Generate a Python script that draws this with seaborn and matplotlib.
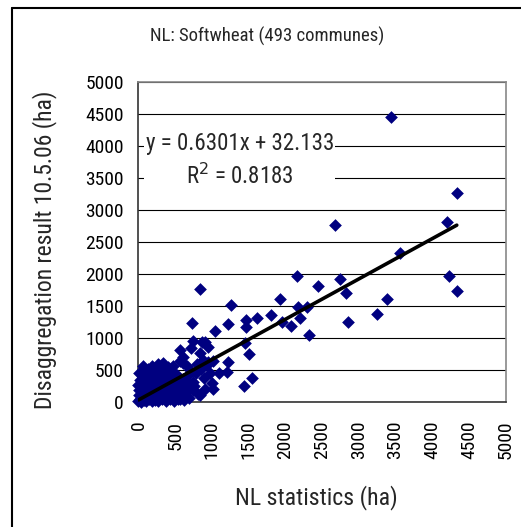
import matplotlib
matplotlib.use("Agg")
import matplotlib.pyplot as plt
import seaborn as sns
import pandas as pd
from matplotlib.lines import Line2D

# data (ha)
# scattered communes away from the origin cluster
outlier_x = [3440, 4334, 2676, 4206, 3562, 2744, 2826, 4233, 4334, 3389,
             3244, 2849, 2155, 2440, 1927, 1260, 1805, 1610, 1464, 2177,
             2299, 2200, 1959, 2077, 1219, 1464, 1042, 2327, 838, 1451,
             1509, 1223, 1542, 1437, 1019, 838, 906, 947, 974, 929,
             1015, 724, 565, 747, 861, 838, 951, 610, 1201, 815,
             747, 679, 520]
outlier_y = [4460, 3271, 2771, 2807, 2333, 1920, 1698, 1971, 1730, 1610,
             1378, 1249, 1971, 1816, 1610, 1522, 1367, 1316, 1285, 1481,
             1481, 1316, 1249, 1187, 1223, 1172, 1110, 1042, 1765, 929,
             743, 630, 372, 243, 206, 113, 944, 867, 449, 577,
             635, 1234, 810, 955, 939, 758, 630, 604, 475, 124,
             320, 423, 372]

# dense cluster of small communes near the origin
cluster_x = [0, 15, 40, 70, 100, 140, 180, 220, 270, 320, 370, 430, 490, 560, 620, 690,
             5, 30, 65, 105, 150, 200, 250, 310, 370, 440, 510, 580, 650,
             10, 45, 85, 130, 175, 230, 290, 350, 420, 490, 560, 620,
             0, 35, 75, 120, 165, 215, 270, 330, 395, 460, 530,
             15, 55, 100, 150, 200, 255, 310, 370, 440, 500,
             30, 80, 130, 185, 240, 300, 360, 420,
             70, 130, 190, 250, 320, 380,
             180, 260, 330,
             600, 660, 700, 780, 850, 880, 720, 800, 890, 1000, 1100, 560, 470, 750, 900,
             10, 60, 340, 400, 450, 520, 610, 680, 740, 620, 540]
cluster_y = [10, 40, 5, 30, 15, 45, 10, 35, 20, 50, 15, 40, 20, 45, 25, 60,
             110, 130, 95, 120, 100, 135, 110, 125, 100, 130, 105, 120, 150,
             190, 170, 210, 180, 215, 185, 205, 175, 210, 190, 180, 220,
             270, 250, 290, 260, 300, 270, 285, 255, 295, 265, 280,
             350, 330, 370, 340, 375, 345, 380, 335, 360, 330,
             430, 410, 450, 420, 455, 415, 440, 410,
             500, 520, 490, 530, 500, 480,
             570, 590, 560,
             700, 560, 500, 450, 520, 660, 850, 600, 380, 300, 460, 640, 560, 250, 200,
             460, 560, 610, 540, 480, 420, 360, 300, 180, 90, 40]

slope = 0.6301
intercept = 32.133
r_squared = 0.8183

df = pd.DataFrame({
    "nl_stat": outlier_x + cluster_x,
    "disagg": outlier_y + cluster_y,
})

sns.set_style("white")
plt.rcParams["font.family"] = ["Roboto Condensed", "Liberation Sans", "DejaVu Sans"]

fig = plt.figure(figsize=(5.21, 5.27), dpi=100)
ax = fig.add_axes([0.2658, 0.2372, 0.7048, 0.6072])

ax.yaxis.grid(True, color="black", linewidth=0.8)
ax.set_axisbelow(True)

sns.scatterplot(data=df, x="nl_stat", y="disagg", marker="D", s=42,
                color="#000080", edgecolor="#000080", linewidth=0, ax=ax,
                zorder=3, clip_on=False)

# linear trendline from the equation shown on the chart
x0, x1 = df["nl_stat"].min(), df["nl_stat"].max()
ax.plot([x0, x1], [slope * x0 + intercept, slope * x1 + intercept],
        color="black", linewidth=2.6, zorder=4)

ax.text(1380, 3770, f"y = {slope}x + {intercept}\nR$^2$ = {r_squared}",
        ha="center", va="center", multialignment="center", fontsize=16.5,
        linespacing=1.45, zorder=5,
        bbox=dict(facecolor="white", edgecolor="none", pad=1))

ax.set_xlim(0, 5000)
ax.set_ylim(0, 5000)
ticks = list(range(0, 5001, 500))
ax.set_xticks(ticks)
ax.set_yticks(ticks)
ax.set_xticklabels([str(t) for t in ticks], rotation=90)
ax.tick_params(axis="both", direction="out", length=5.5, width=1,
               color="#333333", labelsize=14, labelcolor="black")
ax.tick_params(axis="x", pad=8)
ax.tick_params(axis="y", pad=5)
ax.set_xlabel("")
ax.set_ylabel("")

for side in ["left", "bottom"]:
    ax.spines[side].set_color("#333333")
    ax.spines[side].set_linewidth(1.2)
for side in ["top", "right"]:
    ax.spines[side].set_color("#888888")
    ax.spines[side].set_linewidth(1.2)

fig.text(0.513, 0.930, "NL: Softwheat (493 communes)", ha="center", va="center",
         fontsize=13.5)
fig.text(0.608, 0.055, "NL statistics (ha)", ha="center", va="center", fontsize=17.2)
fig.text(0.086, 0.526, "Disaggregation result 10.5.06 (ha)", ha="center", va="center",
         rotation=90, fontsize=17)

# chart frame (left and top edges visible in the reference)
fig.add_artist(Line2D([0.023, 0.023], [0, 0.9848], color="black", linewidth=1.5,
                      transform=fig.transFigure))
fig.add_artist(Line2D([0.023, 1], [0.9848, 0.9848], color="black", linewidth=1.5,
                      transform=fig.transFigure))

fig.savefig("out.png", dpi=100)
